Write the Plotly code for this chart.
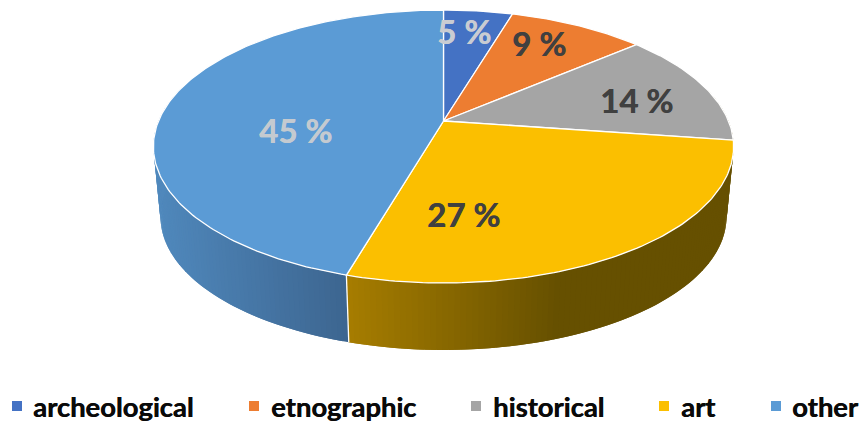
import numpy as np
import plotly.graph_objects as go

categories = ["archeological", "etnographic", "historical", "art", "other"]
values = [4.6, 9.1, 13.5, 27.2, 45.4]
labels = ["5 %", "9 %", "14 %", "27 %", "45 %"]
colors = ["#4472C4", "#ED7D31", "#A5A5A5", "#FBBF00", "#5B9BD5"]
label_colors = ["#C9CCD2", "#404040", "#404040", "#404040", "#C4CAD0"]
label_pos = [(464, 31), (539, 43), (636, 100), (463, 214), (295, 130)]
legend_marker_x = [17, 254, 476, 664, 776]
legend_text_x = [33, 271, 493, 681, 792]
LEGEND_Y = 406

# side shading: (pixel x stops, colours as rgb)
side_stops = {
    0: ([0, 861], [(0x29, 0x44, 0x75), (0x29, 0x44, 0x75)]),
    1: ([0, 861], [(0x8E, 0x4B, 0x1D), (0x8E, 0x4B, 0x1D)]),
    2: ([0, 861], [(0x66, 0x50, 0x00), (0x66, 0x50, 0x00)]),
    3: ([346, 560], [(0xA8, 0x7E, 0x00), (0x66, 0x50, 0x00)]),
    4: ([155, 346], [(0x50, 0x89, 0xBD), (0x3D, 0x66, 0x91)]),
}

# perspective projection of the disc
K = 0.187


def project(theta, cx, cy, rx, ry):
    X, Y = np.sin(theta), np.cos(theta)
    w = 1 + K * Y
    return cx + rx * X / w, cy - ry * Y / w


TOP = dict(cx=443.5, cy=121, rx=285, ry=131.7)
BOTTOM = dict(cx=443.5, cy=192, rx=278, ry=128.4)

fractions = np.cumsum([0] + values) / sum(values)
angles = fractions * 2 * np.pi
traces = []

# side wall strips: each strip overlaps the following one so that no seam shows
for i in range(len(values)):
    a0, a1 = angles[i], angles[i + 1]
    n = max(2, int((a1 - a0) / np.radians(1.0)))
    grid = np.linspace(a0, a1, n + 1)
    step = grid[1] - grid[0]
    stops_x, stops_c = side_stops[i]
    for k, t0 in enumerate(grid[:-1]):
        t1 = grid[k + 1] + (step if k < n - 1 else 0)
        if np.cos(t0 + step / 2) > 0.25:
            continue
        ux, uy = project(np.array([t0, t1]), **TOP)
        lx, ly = project(np.array([t1, t0]), **BOTTOM)
        mid = (ux[0] + lx[1]) / 2
        rgb = [np.interp(mid, stops_x, [c[j] for c in stops_c]) for j in range(3)]
        col = f"rgb({rgb[0]:.0f},{rgb[1]:.0f},{rgb[2]:.0f})"
        traces.append(go.Scatter(
            x=np.r_[ux, lx, ux[0]], y=np.r_[uy, ly, uy[0]], mode="lines", fill="toself",
            fillcolor=col, line=dict(width=0), hoverinfo="skip", showlegend=False))

# white divider on the wall between art and other
a = angles[4]
ux, uy = project(a, **TOP)
lx, ly = project(a, **BOTTOM)
traces.append(go.Scatter(x=[ux, lx], y=[uy, ly], mode="lines",
                         line=dict(color="white", width=1.3), hoverinfo="skip", showlegend=False))

# top face
for i, cat in enumerate(categories):
    grid = np.linspace(angles[i], angles[i + 1], max(3, int(values[i] * 4)))
    px, py = project(grid, **TOP)
    traces.append(go.Scatter(
        x=np.r_[TOP["cx"], px, TOP["cx"]], y=np.r_[TOP["cy"], py, TOP["cy"]],
        mode="lines", fill="toself", fillcolor=colors[i], name=cat,
        line=dict(color="white", width=1.3), hovertemplate=f"{cat}: {labels[i]}<extra></extra>",
        showlegend=False))

# legend markers
for i, cat in enumerate(categories):
    traces.append(go.Scatter(x=[legend_marker_x[i]], y=[LEGEND_Y], mode="markers",
                             marker=dict(symbol="square", size=10, color=colors[i]),
                             hoverinfo="skip", showlegend=False))

annotations = []
for i in range(len(categories)):
    c = label_colors[i]
    annotations.append(dict(x=label_pos[i][0], y=label_pos[i][1], text=f"<b>{labels[i]}</b>", showarrow=False,
                            xanchor="center", yanchor="middle",
                            font=dict(family="Lato", size=33, color=c, shadow=f"0.5px 0 0 {c}")))
    annotations.append(dict(x=legend_text_x[i], y=LEGEND_Y, text=f"<b>{categories[i]}</b>", showarrow=False,
                            xanchor="left", yanchor="middle", xshift=-2,
                            font=dict(family="Lato", size=27.4, color="#0A0A0A", shadow="0.5px 0 0 #0A0A0A")))

fig = go.Figure(traces)
fig.update_layout(
    width=861, height=422, margin=dict(l=0, r=0, t=0, b=0),
    paper_bgcolor="white", plot_bgcolor="white", showlegend=False,
    xaxis=dict(range=[0, 861], visible=False, fixedrange=True),
    yaxis=dict(range=[422, 0], visible=False, fixedrange=True),
    annotations=annotations,
)
fig.write_html("out.html", config=dict(displayModeBar=False),
               post_script="document.body.style.margin='0';document.documentElement.style.overflow='hidden';")
